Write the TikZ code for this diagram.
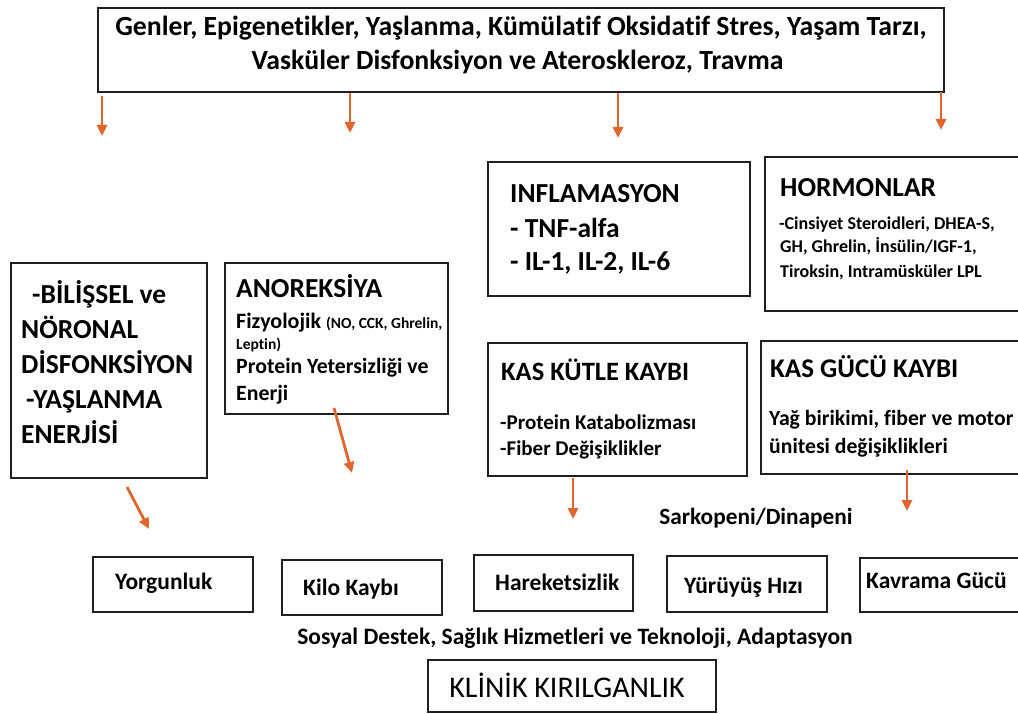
\documentclass[tikz,border=0pt]{standalone}
\usepackage{fontspec}
\setmainfont{Carlito}[Ligatures={NoCommon}]
\usetikzlibrary{arrows.meta}
\definecolor{arrorange}{HTML}{E0662E}
\definecolor{boxline}{HTML}{202020}
\newcommand{\fsz}[1]{\fontsize{#1}{#1}\selectfont}
\begin{document}
\begin{tikzpicture}[x=1pt,y=-1pt,
  box/.style={draw=boxline, line width=1.7pt, anchor=north west, inner sep=0pt},
  arr/.style={draw=arrorange, line width=2.8pt, -{Triangle[length=11pt,width=10pt]}},
  txt/.style={anchor=base west, inner sep=0pt, font=\bfseries},
  ctxt/.style={anchor=base, inner sep=0pt, font=\bfseries}]
\path[use as bounding box, fill=white] (0,0) rectangle (1018,714);
% top box
\node[box, minimum width=846pt, minimum height=84pt] (top) at (97,7) {};
\node[ctxt, font=\bfseries\fsz{27.7}] (t1) at (521,36) {Genler, Epigenetikler, Yaşlanma, Kümülatif Oksidatif Stres, Yaşam Tarzı,};
\node[ctxt, font=\bfseries\fsz{27.7}] (t2) at (517.5,70) {Vasküler Disfonksiyon ve Ateroskleroz, Travma};
% top arrows
\coordinate (a1s) at (102,96); \coordinate (a1e) at (102,136);
\coordinate (a2s) at (350,93); \coordinate (a2e) at (350,133);
\coordinate (a3s) at (618,93); \coordinate (a3e) at (618,138);
\coordinate (a4s) at (941,92); \coordinate (a4e) at (941,130);
\draw[arr] (a1s) -- (a1e);
\draw[arr] (a2s) -- (a2e);
\draw[arr] (a3s) -- (a3e);
\draw[arr] (a4s) -- (a4e);
% BILISSEL
\node[box, minimum width=196pt, minimum height=215pt] (bil) at (10,262) {};
\begin{scope}[every node/.style={txt, font=\bfseries\fsz{27.5}}]
\node (b1) at (32,304) {-BİLİŞSEL ve};
\node (b2) at (21,338) {NÖRONAL};
\node (b3) at (21,373) {DİSFONKSİYON};
\node (b4) at (26,408) {-YAŞLANMA};
\node (b5) at (21,443) {ENERJİSİ};
\end{scope}
% ANOREKSIYA
\node[box, minimum width=223pt, minimum height=151pt] (ano) at (224,262) {};
\node[txt, font=\bfseries\fsz{27.5}] (n1) at (236,298) {ANOREKSİYA};
\node[txt, font=\bfseries\fsz{22}] (n2) at (236,328) {Fizyolojik \fsz{15.5}(NO, CCK, Ghrelin,};
\node[txt, font=\bfseries\fsz{15.5}] (n3) at (236,349) {Leptin)};
\node[txt, font=\bfseries\fsz{21.8}] (n4) at (236,373) {Protein Yetersizliği ve};
\node[txt, font=\bfseries\fsz{21.8}] (n5) at (236,400) {Enerji};
% INFLAMASYON
\node[box, minimum width=262pt, minimum height=134pt] (inf) at (487,161) {};
\begin{scope}[every node/.style={txt, font=\bfseries\fsz{27.5}}]
\node (i1) at (510,203) {INFLAMASYON};
\node (i2) at (510,238) {- TNF-alfa};
\node (i3) at (510,271) {- IL-1, IL-2, IL-6};
\end{scope}
% HORMONLAR
\node[box, minimum width=256pt, minimum height=154pt] (hor) at (764,156) {};
\node[txt, font=\bfseries\fsz{27.5}] (h1) at (780,197) {HORMONLAR};
\begin{scope}[every node/.style={txt, font=\bfseries\fsz{18}}]
\node (h2) at (779,230) {-Cinsiyet Steroidleri, DHEA-S,};
\node (h3) at (780,253) {GH, Ghrelin, İnsülin/IGF-1,};
\node (h4) at (780,278) {Tiroksin, Intramüsküler LPL};
\end{scope}
% KAS KUTLE
\node[box, minimum width=259pt, minimum height=133pt] (kk) at (487,342) {};
\node[txt, font=\bfseries\fsz{26.5}] (k1) at (501,380) {KAS KÜTLE KAYBI};
\node[txt, font=\bfseries\fsz{21}] (k2) at (500,429) {-Protein Katabolizması};
\node[txt, font=\bfseries\fsz{21}] (k3) at (500,455) {-Fiber Değişiklikler};
% KAS GUCU
\node[box, minimum width=260pt, minimum height=133pt] (kg) at (760,340) {};
\node[txt, font=\bfseries\fsz{27}] (g1) at (770,377) {KAS GÜCÜ KAYBI};
\node[txt, font=\bfseries\fsz{21.7}] (g2) at (769,425) {Yağ birikimi, fiber ve motor};
\node[txt, font=\bfseries\fsz{21.7}] (g3) at (769,453) {ünitesi değişiklikleri};
% middle arrows
\coordinate (m1s) at (127,487); \coordinate (m1e) at (149,529);
\coordinate (m2s) at (334,408); \coordinate (m2e) at (352,473);
\coordinate (m3s) at (573,478); \coordinate (m3e) at (573,519);
\coordinate (m4s) at (907,470); \coordinate (m4e) at (907,511);
\draw[arr] (m1s) -- (m1e);
\draw[arr] (m2s) -- (m2e);
\draw[arr] (m3s) -- (m3e);
\draw[arr] (m4s) -- (m4e);
\node[ctxt, font=\bfseries\fsz{23.3}] (sark) at (756,524) {Sarkopeni/Dinapeni};
% bottom boxes
\node[box, minimum width=160pt, minimum height=55pt] (yor) at (92,556) {};
\node[box, minimum width=160pt, minimum height=55pt] (kilo) at (281,559) {};
\node[box, minimum width=159pt, minimum height=56pt] (har) at (473,554) {};
\node[box, minimum width=160pt, minimum height=56pt] (yur) at (666,555) {};
\node[box, minimum width=162pt, minimum height=54pt] (kav) at (859,557) {};
\begin{scope}[every node/.style={txt, font=\bfseries\fsz{23.5}}]
\node (yt) at (115,589) {Yorgunluk};
\node (kt) at (303,595) {Kilo Kaybı};
\node (ht) at (495,590) {Hareketsizlik};
\node (ut) at (684,593) {Yürüyüş Hızı};
\node (vt) at (866,588) {Kavrama Gücü};
\end{scope}
\node[ctxt, font=\bfseries\fsz{23.5}] (sos) at (575,644) {Sosyal Destek, Sağlık Hizmetleri ve Teknoloji, Adaptasyon};
\node[box, minimum width=288pt, minimum height=52pt] (kl) at (427,659) {};
\node[ctxt, font=\fsz{30}] (klt) at (567,697) {KLİNİK KIRILGANLIK};
\end{tikzpicture}
\end{document}
